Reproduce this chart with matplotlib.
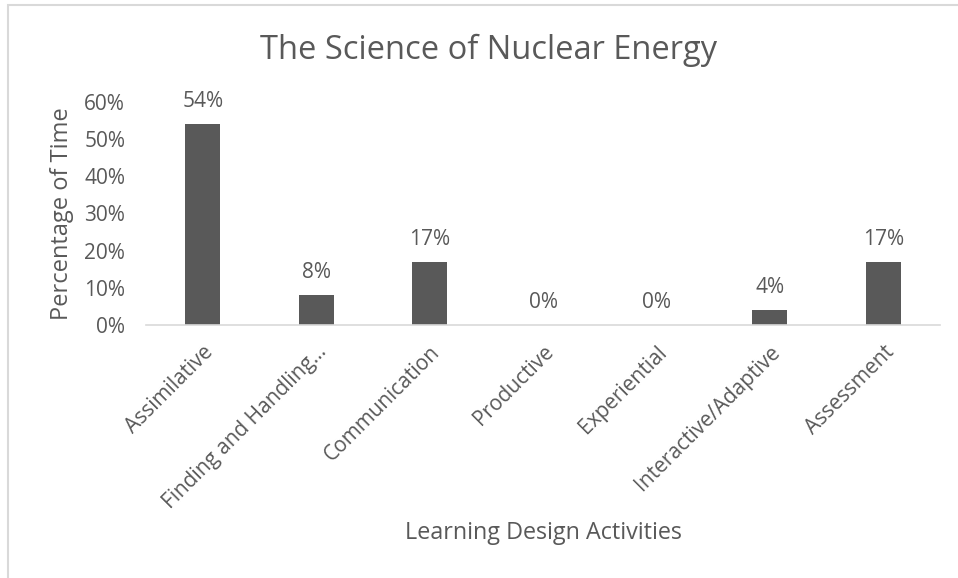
import matplotlib.pyplot as plt
import numpy as np
from matplotlib.patches import Rectangle
from matplotlib.ticker import PercentFormatter

categories = ["Assimilative", "Finding and Handling...", "Communication", "Productive",
              "Experiential", "Interactive/Adaptive", "Assessment"]
values = [54, 8, 17, 0, 0, 4, 17]

GREY = "#595959"
plt.rcParams["font.family"] = ["Open Sans", "DejaVu Sans"]

fig = plt.figure(figsize=(9.58, 5.78), dpi=100)
ax = fig.add_axes([146 / 958, 1 - 325 / 578, 794 / 958, 223 / 578])

x = np.arange(len(categories))
ax.bar(x, values, width=0.31, color=GREY, zorder=2)
for xi, v in zip(x, values):
    ax.text(xi, v + 6.0, f"{v}%", ha="center", va="center", fontsize=15, color=GREY)

ax.set_xlim(-0.5, len(categories) - 0.5)
ax.set_ylim(0, 60)
ax.set_yticks(np.arange(0, 61, 10))
ax.yaxis.set_major_formatter(PercentFormatter(decimals=0))
ax.set_xticks(x)
ax.set_xticklabels(categories, rotation=45, ha="right", rotation_mode="anchor")
ax.tick_params(axis="both", length=0, labelsize=15, labelcolor=GREY)
ax.tick_params(axis="y", pad=15)
ax.tick_params(axis="x", pad=12)

for s in ["top", "right", "left"]:
    ax.spines[s].set_visible(False)
ax.spines["bottom"].set_color("#d9d9d9")
ax.spines["bottom"].set_linewidth(1.2)

ax.set_ylabel("Percentage of Time", fontsize=17, color=GREY)
ax.yaxis.set_label_coords(-72 / 794, 0.5)
fig.text(543 / 958, 1 - 533 / 578, "Learning Design Activities", ha="center", va="center",
         fontsize=16.8, color=GREY)
fig.text(489 / 958, 1 - 50 / 578, "The Science of Nuclear Energy", ha="center", va="center",
         fontsize=23.5, color=GREY)

# chart frame (left and top edges visible in the screenshot)
fig.patches.append(Rectangle((8 / 958, -0.1), 1.2, 1 - 5 / 578 + 0.1, transform=fig.transFigure,
                             fill=False, edgecolor="#d9d9d9", linewidth=1.5))

fig.savefig("out.png", dpi=100)
